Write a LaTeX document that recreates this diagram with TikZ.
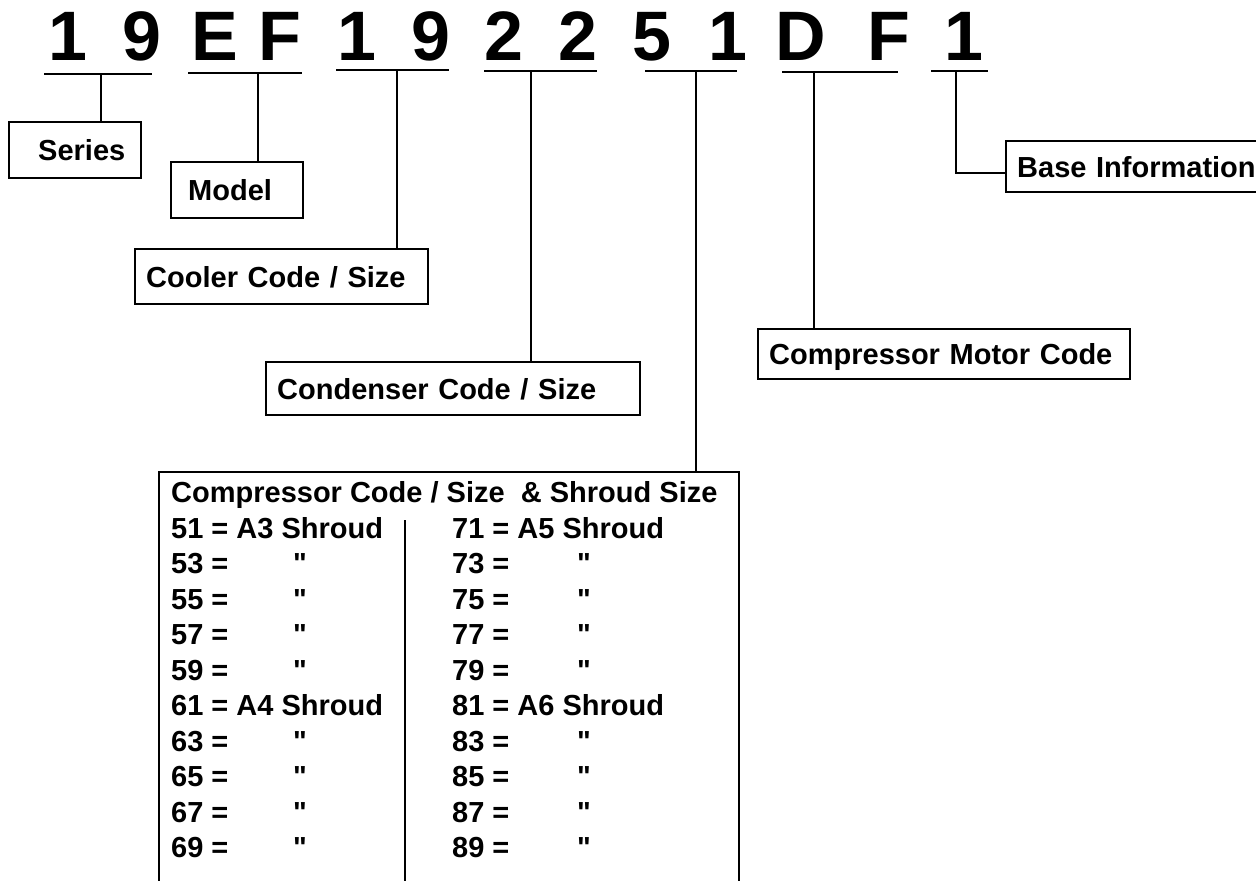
\documentclass[tikz,border=0pt]{standalone}
\usepackage{fontspec}
\setmainfont{Liberation Sans}[Ligatures=TeXOff]
\usetikzlibrary{positioning}
\begin{document}
\begin{tikzpicture}[x=1pt,y=-1pt,
code/.style={font=\fontsize{70}{70}\selectfont\bfseries,anchor=base,inner sep=0pt},
box/.style={draw,line width=2.4pt,anchor=north west,align=left,inner xsep=11pt,inner ysep=0pt,
  text height=21pt,text depth=0pt,font=\fontsize{29}{34}\selectfont\bfseries},
row/.style={anchor=base west,inner sep=0pt,font=\fontsize{29}{34}\selectfont\bfseries},
uline/.style={line width=2.4pt},
lead/.style={line width=1.8pt}]
\useasboundingbox (0,0) rectangle (1256,881);
\foreach \ch/\x [count=\k] in {1/68,9/142,E/215,F/280,1/357,9/431,2/504,2/578,5/652,1/728,D/801,F/889,1/964}
  \node[code] (c\k) at (\x,60) {\ch};
\foreach \nm/\a/\b/\t/\y in {ser/44/152/101/74,mod/188/302/258/73,cool/336/449/397/70,cond/484/597/531/71,
  comp/645/737/696/71,mot/782/898/814/72,base/931/988/956/71}{
  \coordinate (\nm L) at (\a,\y);
  \coordinate (\nm R) at (\b,\y);
  \coordinate (\nm T) at (\t,\y);
  \draw[uline] (\nm L) -- (\nm R);
}
\node[box,text width=110pt,minimum height=56pt] (series) at (8,121) {\hspace*{18pt}Series};
\node[box,text width=110pt,minimum height=56pt] (model) at (170,161) {\hspace*{6pt}Model};
\node[box,text width=271pt,minimum height=55pt] (cooler) at (134,248) {Cooler Code / Size};
\node[box,text width=352pt,minimum height=53pt] (condenser) at (265,361) {Condenser Code / Size};
\node[box,text width=350pt,minimum height=50pt] (motor) at (757,328) {Compressor Motor Code};
\node[box,text width=240pt,minimum height=51pt] (base) at (1005,140) {Base Information};
\node[draw,line width=2.4pt,anchor=north west,minimum width=580pt,minimum height=440pt,inner sep=0pt] (compbox) at (158,471) {};
\draw[lead] (serT) -- (serT |- series.north);
\draw[lead] (modT) -- (modT |- model.north);
\draw[lead] (coolT) -- (coolT |- cooler.north);
\draw[lead] (condT) -- (condT |- condenser.north);
\draw[lead] (motT) -- (motT |- motor.north);
\draw[lead] (compT) -- (compT |- compbox.north);
\draw[lead] (baseT) |- ([yshift=-6pt]base.west);
\node[row] (head) at (171,502) {Compressor Code / Size\ \ \& Shroud Size};
\node[row] (l51) at (171,538) {51 = A3 Shroud};
\node[row] (l61) at (171,{538+35.5*5}) {61 = A4 Shroud};
\node[row] (r71) at (452,538) {71 = A5 Shroud};
\node[row] (r81) at (452,{538+35.5*5}) {81 = A6 Shroud};
\foreach \n/\i in {53/1,55/2,57/3,59/4,63/6,65/7,67/8,69/9}{
  \node[row] (l\n) at (171,{538+35.5*\i}) {\n\ =};
  \node[row] (lq\n) at (293,{538+35.5*\i}) {"};
}
\foreach \n/\i in {73/1,75/2,77/3,79/4,83/6,85/7,87/8,89/9}{
  \node[row] (r\n) at (452,{538+35.5*\i}) {\n\ =};
  \node[row] (rq\n) at (577,{538+35.5*\i}) {"};
}
\draw[lead] (405,520) -- (405,890);
\end{tikzpicture}
\end{document}
